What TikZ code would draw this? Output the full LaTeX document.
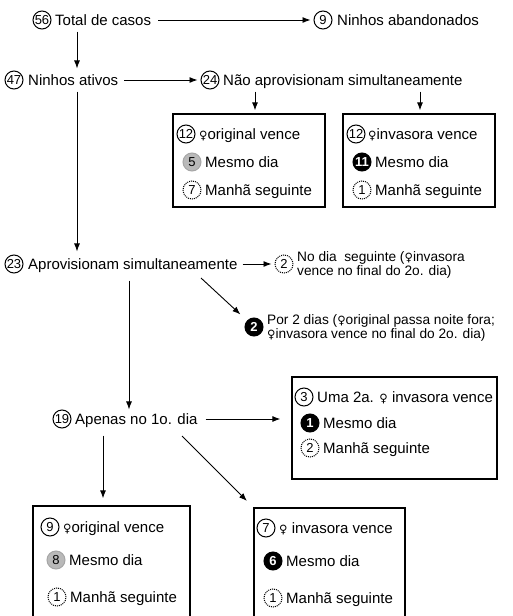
\documentclass[tikz,border=0pt]{standalone}
\usepackage{fontspec}
\setmainfont{Liberation Sans}
\newfontfamily\femfont{DejaVu Sans}
\newcommand{\fem}{{\femfont\fontsize{11.5}{11.5}\selectfont ♀}}
\usetikzlibrary{arrows.meta,positioning}

\begin{document}
\begin{tikzpicture}[x=1pt, y=-1pt, inner sep=0pt,
    every node/.style={font=\fontsize{15}{15}\selectfont},
    lbl/.style={anchor=west, xshift=2pt, text height=13.7pt, text depth=3pt},
    lblmenor/.style={lbl, font=\fontsize{13.7}{14}\selectfont, text height=12.5pt},
    num/.style={circle, draw, line width=1pt, minimum size=18pt, font=\fontsize{13}{13}\selectfont},
    numdot/.style={num, densely dotted},
    numcinza/.style={num, draw=gray!70, fill=gray!55},
    numpreto/.style={num, fill=black, text=white, font=\fontsize{13}{13}\selectfont\bfseries},
    caixa/.style={draw, line width=1.3pt},
    seta/.style={-{Latex[length=8pt,width=6pt]}, line width=0.9pt}]
    \clip (0,0) rectangle (512,616);

    \node[num] (n56) at (42,20) {56};
    \node[lbl] (total) at (53,20) {Total de casos};
    \node[num] (n9) at (323,20) {9};
    \node[lbl] (aband) at (335,20) {Ninhos abandonados};

    \node[num] (n47) at (14,80) {47};
    \node[lbl] (ativos) at (26,80) {Ninhos ativos};
    \node[num] (n24) at (210,80) {24};
    \node[lbl] (naosim) at (221,80) {Não aprovisionam simultaneamente};

    \node[caixa, minimum width=152pt, minimum height=93pt] (orig1) at (249,160.5) {};
    \node[num] (n12a) at (186,134) {12};
    \node[lbl] (orig1a) at (197,134) {\fem original vence};
    \node[numcinza] (n5) at (192,162) {5};
    \node[lbl] (orig1b) at (203,162) {Mesmo dia};
    \node[numdot] (n7a) at (192,190) {7};
    \node[lbl] (orig1c) at (203,190) {Manhã seguinte};

    \node[caixa, minimum width=152pt, minimum height=93pt] (inv1) at (419,160.5) {};
    \node[num] (n12b) at (356,134) {12};
    \node[lbl] (inv1a) at (366,134) {\fem invasora vence};
    \node[numpreto] (n11) at (362,162) {11};
    \node[lbl] (inv1b) at (373,162) {Mesmo dia};
    \node[numdot] (n1a) at (362,190) {1};
    \node[lbl] (inv1c) at (373,190) {Manhã seguinte};

    \node[num] (n23) at (14,264) {23};
    \node[lbl] (aprov) at (26,264) {Aprovisionam simultaneamente};
    \node[numdot] (n2a) at (284,264) {2};
    \node[lblmenor] (seguinteA) at (295,257) {No dia \ seguinte (\fem invasora};
    \node[lblmenor] (seguinteB) at (295,271) {vence no final do 2o. dia)};

    \node[numpreto] (n2b) at (254,327) {2};
    \node[lblmenor] (doisdiasA) at (265,320) {Por 2 dias (\fem original passa noite fora;};
    \node[lblmenor] (doisdiasB) at (265,334) {\fem invasora vence no final do 2o. dia)};

    \node[num] (n19) at (62,419) {19};
    \node[lbl] (apenas) at (73,419) {Apenas no 1o. dia};

    \node[caixa, minimum width=205pt, minimum height=102pt] (outra) at (394.5,428) {};
    \node[num] (n3) at (304,397) {3};
    \node[lbl] (outraA) at (315,397) {Uma 2a. \fem\ invasora vence};
    \node[numpreto] (n1b) at (310,423) {1};
    \node[lbl] (outraB) at (321,423) {Mesmo dia};
    \node[numdot] (n2c) at (310,448) {2};
    \node[lbl] (outraC) at (321,448) {Manhã seguinte};

    \node[caixa, minimum width=157pt, minimum height=134pt] (orig2) at (111.5,573) {};
    \node[num] (n9b) at (50,527) {9};
    \node[lbl] (orig2a) at (61,527) {\fem original vence};
    \node[numcinza] (n8) at (56,560) {8};
    \node[lbl] (orig2b) at (67,560) {Mesmo dia};
    \node[numdot] (n1c) at (57,597) {1};
    \node[lbl] (orig2c) at (68,597) {Manhã seguinte};

    \node[caixa, minimum width=151pt, minimum height=132pt] (inv2) at (329.5,574) {};
    \node[num] (n7b) at (266,528) {7};
    \node[lbl] (inv2a) at (277,528) {\fem\ invasora vence};
    \node[numpreto] (n6) at (273,561) {6};
    \node[lbl] (inv2b) at (284,561) {Mesmo dia};
    \node[numdot] (n1d) at (273,598) {1};
    \node[lbl] (inv2c) at (284,598) {Manhã seguinte};

    \coordinate (colA) at (77,0);
    \coordinate (colB) at (129,0);
    \coordinate (colC) at (103,0);
    \coordinate (colD) at (255,0);
    \coordinate (colE) at (420,0);
    \coordinate (diagA) at (201,278);
    \coordinate (diagB) at (182,436);

    \draw[seta, shorten <=7pt, shorten >=3pt] (total) -- (n9);
    \draw[seta, shorten <=3pt, shorten >=3pt] (total.south -| colA) -- (ativos.north -| colA);
    \draw[seta, shorten <=6pt, shorten >=3pt] (ativos) -- (n24);
    \draw[seta, shorten <=3pt, shorten >=3pt] (naosim.south -| colD) -- (orig1.north -| colD);
    \draw[seta, shorten <=3pt, shorten >=3pt] (naosim.south -| colE) -- (inv1.north -| colE);
    \draw[seta, shorten <=3pt, shorten >=4pt] (ativos.south -| colA) -- (aprov.north -| colA);
    \draw[seta, shorten <=5pt, shorten >=3pt] (aprov) -- (n2a);
    \draw[seta, shorten >=9pt] (diagA) -- (n2b);
    \draw[seta, shorten <=8pt, shorten >=1pt] (aprov.south -| colB) -- (apenas.north -| colB);
    \draw[seta, shorten <=8pt, shorten >=11pt] (apenas) -- (outra.west |- apenas);
    \draw[seta, shorten <=8pt, shorten >=7pt] (apenas.south -| colC) -- (orig2.north -| colC);
    \draw[seta, shorten >=9pt] (diagB) -- (inv2.north west);
  \end{tikzpicture}
\end{document}
